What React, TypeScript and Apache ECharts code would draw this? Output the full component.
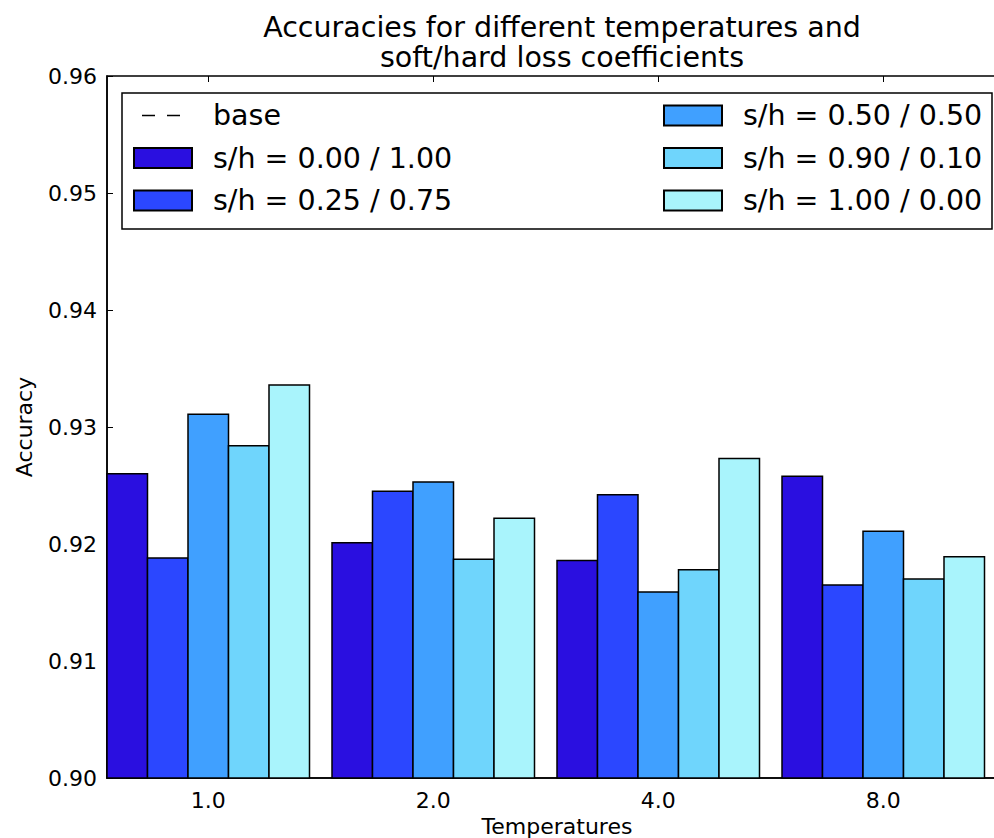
import React, { useEffect, useRef } from "react";
import * as echarts from "echarts";

const temperatures = ["1.0", "2.0", "4.0", "8.0"];
const seriesNames = [
  "s/h = 0.00 / 1.00",
  "s/h = 0.25 / 0.75",
  "s/h = 0.50 / 0.50",
  "s/h = 0.90 / 0.10",
  "s/h = 1.00 / 0.00",
];
const acc000 = [0.926, 0.9201, 0.9186, 0.9258];
const acc025 = [0.9188, 0.9245, 0.9242, 0.9165];
const acc050 = [0.9311, 0.9253, 0.9159, 0.9211];
const acc090 = [0.9284, 0.9187, 0.9178, 0.917];
const acc100 = [0.9336, 0.9222, 0.9273, 0.9189];
const seriesValues = [acc000, acc025, acc050, acc090, acc100];
const colors = ["#2a0fe0", "#2b47ff", "#40a0ff", "#6fd5fc", "#a9f4fc"];
const yMin = 0.9;
const yMax = 0.96;
const yStep = 0.01;

const FONT = "DejaVu Sans";
const BAR_FRAC = 0.18;
const SLOTS = 10;
const LABEL_SLOT = 4;

export default function App() {
  const ref = useRef<HTMLDivElement>(null);
  useEffect(() => {
    if (!ref.current) return;
    const chart = echarts.init(ref.current, null, { renderer: "svg" });
    const slotData: string[] = [];
    temperatures.forEach((t) => {
      for (let k = 0; k < SLOTS; k++) slotData.push(k === LABEL_SLOT ? t : "");
    });
    const isLabelSlot = (i: number) => i % SLOTS === LABEL_SLOT;

    const barSeries = seriesValues.map((vals, j) => ({
      type: "custom",
      name: seriesNames[j],
      xAxisIndex: 0,
      yAxisIndex: 0,
      encode: { x: 0, y: 1 },
      itemStyle: { color: colors[j], borderColor: "#000", borderWidth: 1.5 },
      data: vals.map((v, i) => [i, v]),
      renderItem: (params: any, api: any) => {
        const idx = api.value(0);
        const val = api.value(1);
        const top = api.coord([idx, val]);
        const bottom = api.coord([idx, yMin]);
        const band = api.size([1, 0])[0];
        const w = band * BAR_FRAC;
        const x = top[0] - band / 2 + j * w;
        return {
          type: "rect",
          shape: { x, y: top[1], width: w, height: bottom[1] - top[1] },
          style: { fill: colors[j], stroke: "#000", lineWidth: 1.5 },
        };
      },
    }));

    const legendText = {
      fontFamily: FONT,
      fontSize: 28.5,
      color: "#000",
      lineHeight: 28,
      padding: [0, 0, 0, 16],
    };

    chart.setOption({
      animation: false,
      backgroundColor: "#fff",
      title: {
        text: "Accuracies for different temperatures and\nsoft/hard loss coefficients",
        left: 557,
        top: 7,
        textAlign: "center",
        textStyle: {
          fontFamily: FONT,
          fontSize: 28.5,
          fontWeight: "normal",
          color: "#000",
          lineHeight: 30,
        },
      },
      grid: {
        left: 107,
        top: 76,
        width: 900,
        height: 702,
        show: true,
        borderColor: "#000",
        borderWidth: 1.5,
        backgroundColor: "transparent",
        containLabel: false,
        outerBoundsMode: "none",
      },
      graphic: [
        {
          type: "rect",
          z: 1,
          shape: { x: 122, y: 93, width: 870, height: 136 },
          style: { fill: "#fff", stroke: "#000", lineWidth: 1.5 },
        },
      ],
      legend: [
        {
          orient: "vertical",
          left: 133,
          top: 101,
          padding: 0,
          itemWidth: 58,
          itemHeight: 20,
          itemGap: 13.5,
          z: 5,
          textStyle: legendText,
          data: [
            {
              name: "base",
              itemStyle: { color: "transparent", borderColor: "transparent", borderWidth: 0, opacity: 0 },
              lineStyle: { color: "#000", width: 1.5, type: [13, 12], dashOffset: 17 },
            },
            { name: seriesNames[0], icon: "rect" },
            { name: seriesNames[1], icon: "rect" },
          ],
        },
        {
          orient: "vertical",
          left: 663,
          top: 101,
          padding: 0,
          itemWidth: 58,
          itemHeight: 20,
          itemGap: 13.5,
          z: 5,
          textStyle: legendText,
          data: [
            { name: seriesNames[2], icon: "rect" },
            { name: seriesNames[3], icon: "rect" },
            { name: seriesNames[4], icon: "rect" },
          ],
        },
      ],
      xAxis: [
        {
          type: "category",
          data: temperatures,
          position: "bottom",
          axisLine: { show: true, lineStyle: { color: "#000", width: 1.5 } },
          axisTick: { show: false },
          axisLabel: { show: false },
          splitLine: { show: false },
        },
        {
          type: "category",
          data: slotData,
          position: "bottom",
          name: "Temperatures",
          nameLocation: "middle",
          nameGap: 36,
          nameTextStyle: { fontFamily: FONT, fontSize: 22, color: "#000" },
          axisLine: { show: false },
          axisTick: {
            show: true,
            inside: true,
            length: 6,
            alignWithLabel: true,
            interval: (i: number) => isLabelSlot(i),
            lineStyle: { color: "#000", width: 1 },
          },
          axisLabel: {
            show: true,
            interval: (i: number) => isLabelSlot(i),
            margin: 11,
            fontFamily: FONT,
            fontSize: 22,
            color: "#000",
          },
          splitLine: { show: false },
        },
        {
          type: "category",
          data: slotData,
          position: "top",
          axisLine: { show: false },
          axisTick: {
            show: true,
            inside: true,
            length: 6,
            alignWithLabel: true,
            interval: (i: number) => isLabelSlot(i),
            lineStyle: { color: "#000", width: 1 },
          },
          axisLabel: { show: false },
          splitLine: { show: false },
        },
      ],
      yAxis: {
        type: "value",
        min: yMin,
        max: yMax,
        interval: yStep,
        name: "Accuracy",
        nameLocation: "middle",
        nameGap: 72,
        nameTextStyle: { fontFamily: FONT, fontSize: 22, color: "#000" },
        axisLine: { show: true, lineStyle: { color: "#000", width: 1.5 } },
        axisTick: { show: true, inside: true, length: 6, lineStyle: { color: "#000" } },
        axisLabel: {
          margin: 10,
          fontFamily: FONT,
          fontSize: 22,
          color: "#000",
          formatter: (v: number) => v.toFixed(2),
        },
        splitLine: { show: false },
      },
      series: [
        {
          type: "line",
          name: "base",
          xAxisIndex: 0,
          yAxisIndex: 0,
          symbol: "none",
          lineStyle: { color: "#000", width: 1.5, type: [13, 12], dashOffset: 17 },
          itemStyle: { color: "#000" },
          data: [],
        },
        ...barSeries,
      ],
    });
    return () => chart.dispose();
  }, []);
  return (
    <div
      ref={ref}
      style={{ position: "fixed", left: 0, top: 0, width: 994, height: 838 }}
    />
  );
}
